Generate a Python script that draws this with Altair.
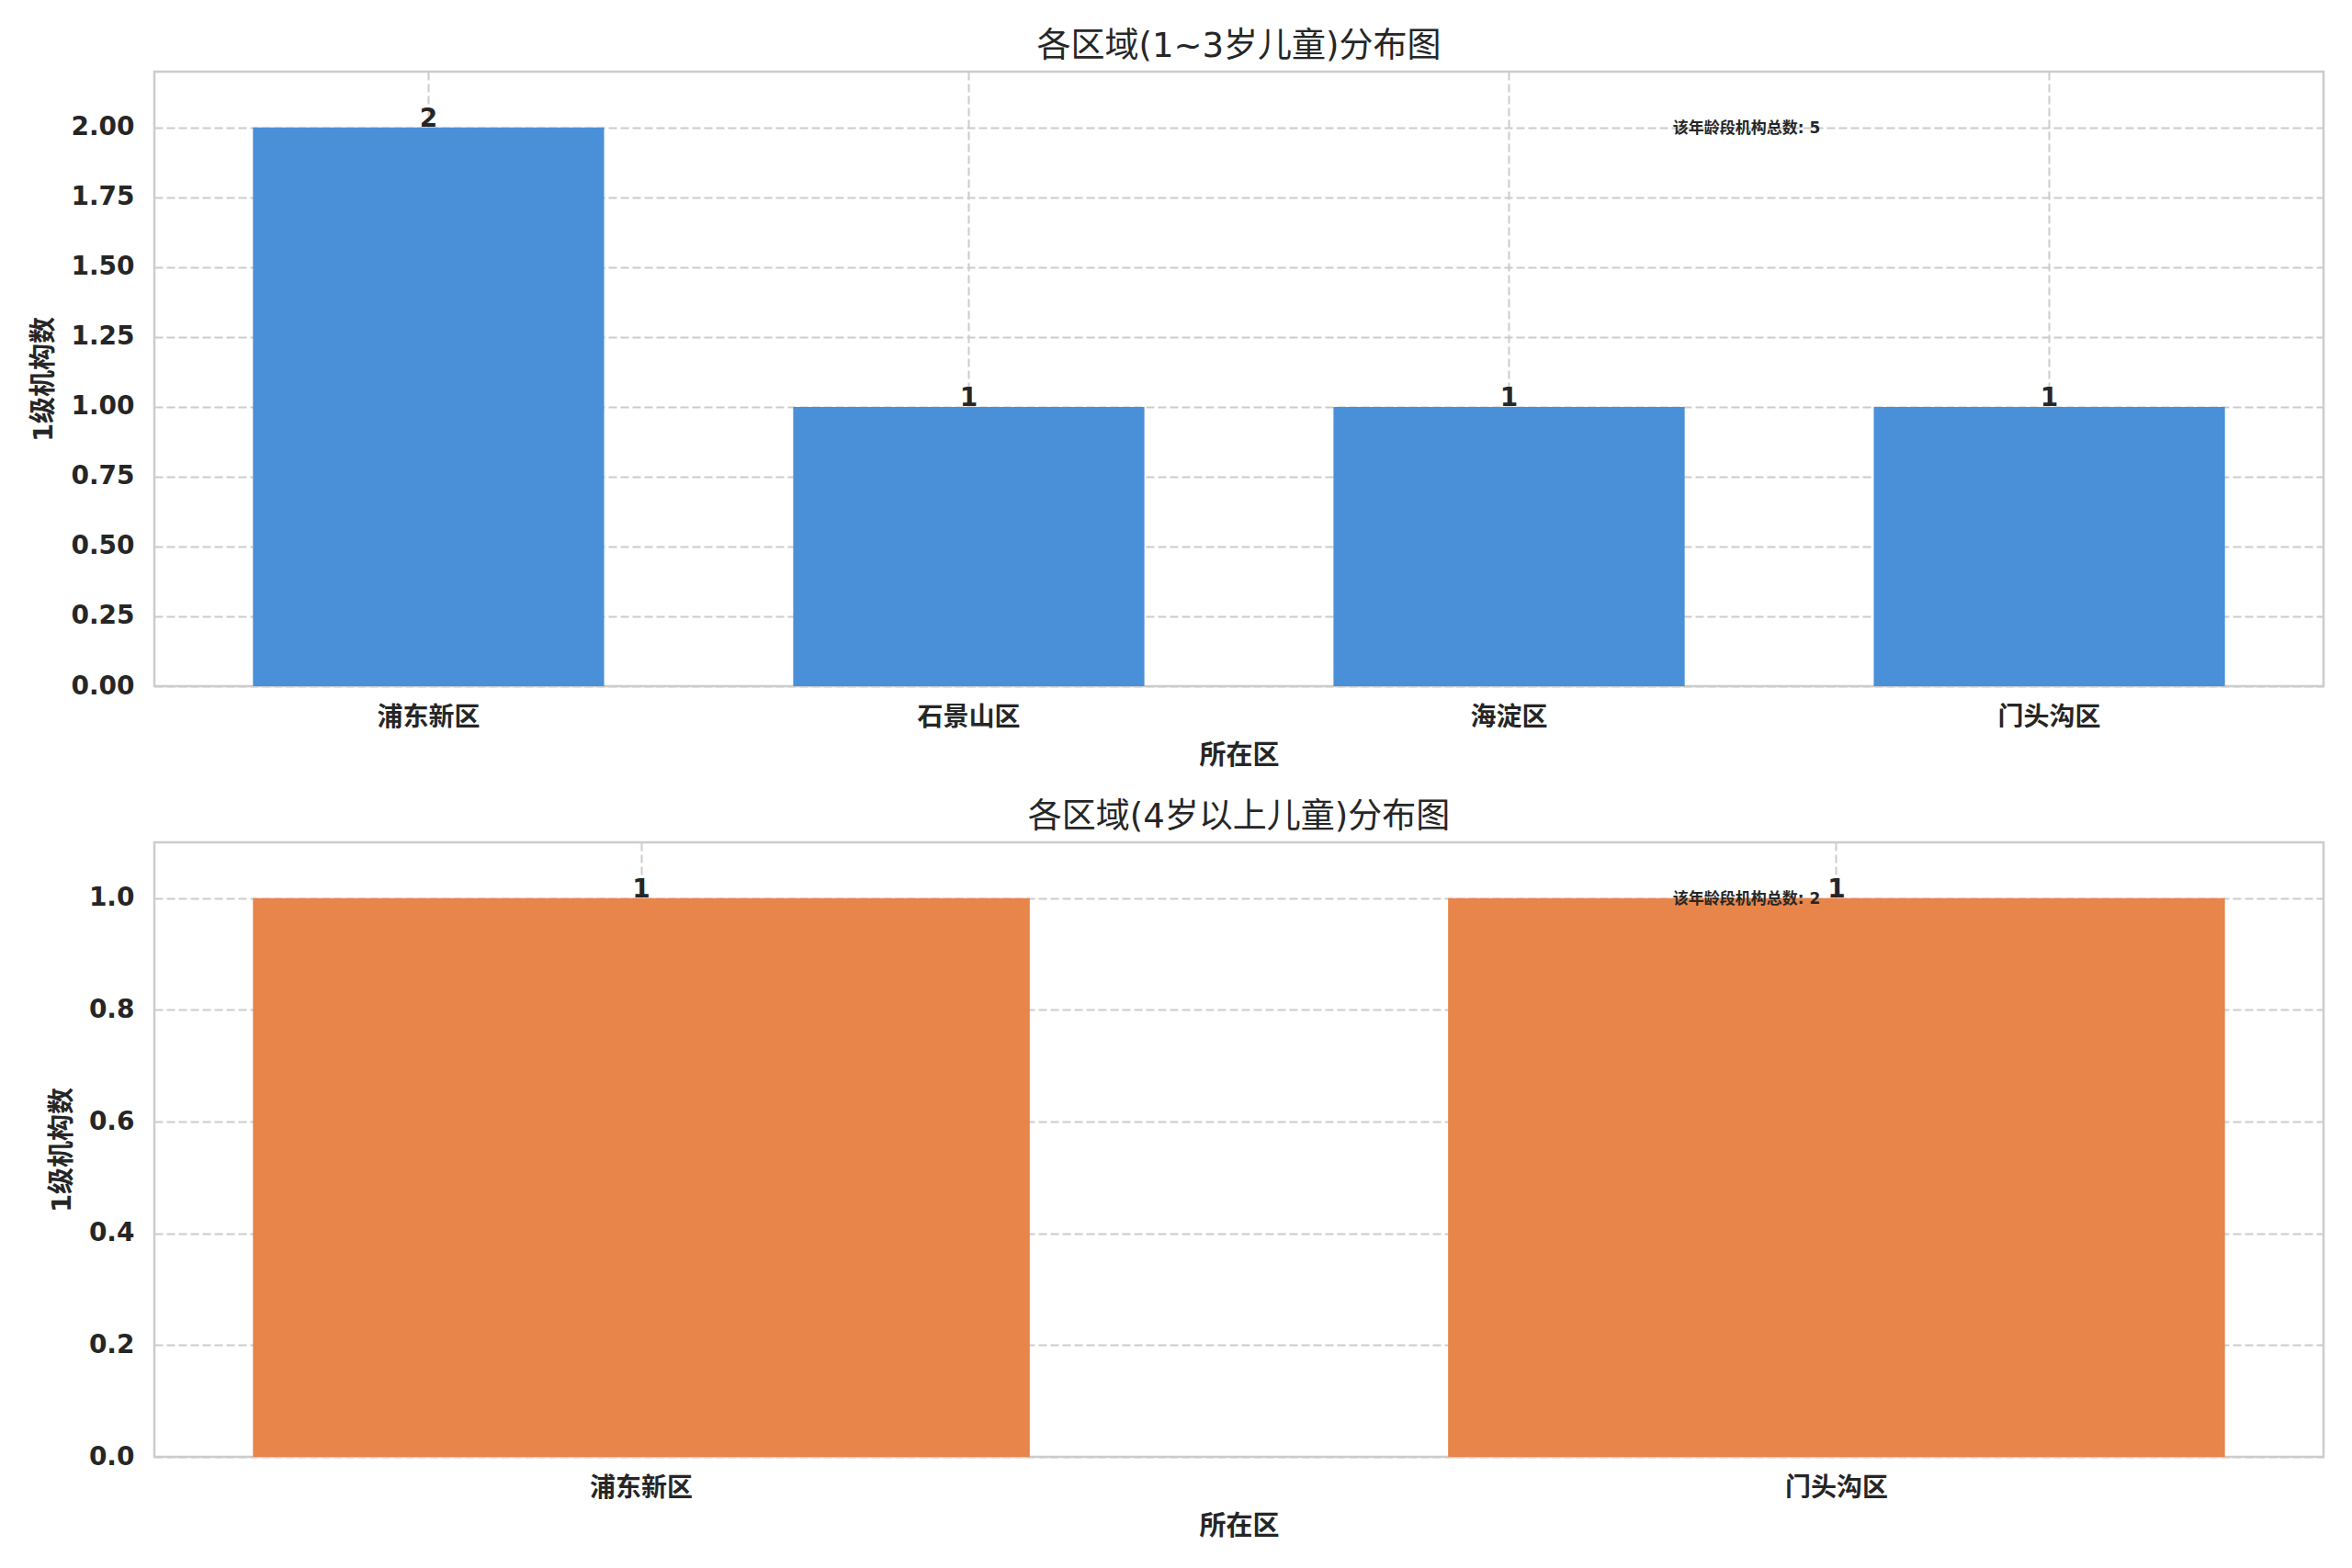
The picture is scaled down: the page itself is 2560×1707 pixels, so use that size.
import altair as alt
import pandas as pd

# ---- text ----
top_title = "各区域(1~3岁儿童)分布图"
bottom_title = "各区域(4岁以上儿童)分布图"
x_title = "所在区"
y_title = "1级机构数"
note_label = "该年龄段机构总数"

# ---- data ----
top_categories = ["浦东新区", "石景山区", "海淀区", "门头沟区"]
top_counts = [2, 1, 1, 1]
bottom_categories = ["浦东新区", "门头沟区"]
bottom_counts = [1, 1]

top_ticks = [0.0, 0.25, 0.5, 0.75, 1.0, 1.25, 1.5, 1.75, 2.0]
bottom_ticks = [0.0, 0.2, 0.4, 0.6, 0.8, 1.0]
top_ymax = 2.2
bottom_ymax = 1.1

# ---- style ----
W, H = 2361, 669
FONT = "DejaVu Sans, Noto Sans CJK SC"
TEXT = "#262626"
BLUE = "#4A90D9"
ORANGE = "#E8854B"
BAR_W = 0.65


def panel(cats, counts, color, ymax, ticks, fmt, title):
    df = pd.DataFrame({"cat": cats, "n": counts})
    pad_outer = 0.05 * (len(cats) - 1 + BAR_W)
    x = alt.X(
        "cat:N",
        sort=cats,
        title=x_title,
        scale=alt.Scale(paddingInner=1 - BAR_W, paddingOuter=pad_outer),
        axis=alt.Axis(labelAngle=0, bandPosition=0.5),
    )
    y = alt.Y(
        "n:Q",
        title=y_title,
        scale=alt.Scale(domain=[0, ymax], nice=False, zero=True),
        axis=alt.Axis(values=ticks, format=fmt),
    )
    bars = alt.Chart(df).mark_bar(color=color).encode(x=x, y=y)
    labels = (
        alt.Chart(df)
        .mark_text(baseline="alphabetic", dy=-1, fontSize=28, fontWeight="bold",
                   font=FONT, color=TEXT)
        .encode(x=x, y=y, text="n:Q")
    )
    note_df = pd.DataFrame({"t": [f"{note_label}: {sum(counts)}"]})
    note = (
        alt.Chart(note_df)
        .mark_text(align="left", baseline="alphabetic", fontSize=17,
                   fontWeight="bold", font=FONT, color=TEXT)
        .encode(x=alt.value(0.70 * W), y=alt.value(0.10 * H), text="t:N")
    )
    return alt.layer(bars, labels, note).properties(
        width=W, height=H, title=alt.Title(title)
    )


top = panel(top_categories, top_counts, BLUE, top_ymax, top_ticks, ".2f", top_title)
bottom = panel(bottom_categories, bottom_counts, ORANGE, bottom_ymax, bottom_ticks, ".1f", bottom_title)

chart = (
    alt.vconcat(top, bottom, spacing=30)
    .configure(background="white",
               padding={"left": 24, "top": 22, "right": 10, "bottom": 10})
    .configure_view(stroke="#cccccc", strokeWidth=2.5)
    .configure_axis(
        grid=True, gridColor="#cccccc", gridDash=[9, 4], gridWidth=2,
        domain=False, ticks=False, tickSize=0,
        labelColor=TEXT, titleColor=TEXT,
        labelFont=FONT, titleFont=FONT,
        labelFontSize=28, titleFontSize=29,
        labelFontWeight="bold", titleFontWeight="bold",
    )
    .configure_axisX(labelPadding=20, titlePadding=13)
    .configure_axisY(labelPadding=22, titlePadding=14)
    .configure_title(fontSize=37, font=FONT, fontWeight="normal", color=TEXT,
                     baseline="alphabetic", offset=8, anchor="middle")
)

chart.save("out.html", embed_options={"renderer": "svg", "actions": False})
